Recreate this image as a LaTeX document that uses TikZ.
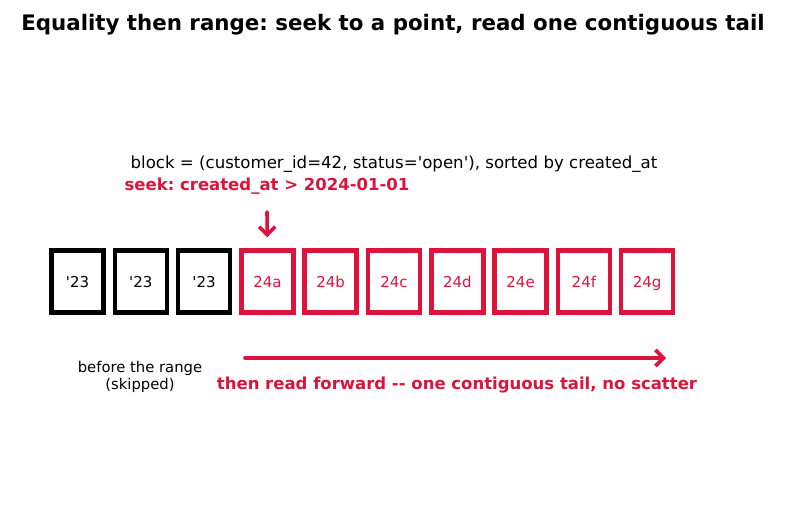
\documentclass[tikz,border=0pt]{standalone}
\usepackage{fontspec}
\newfontfamily\dv{DejaVu Sans}
\usetikzlibrary{arrows.meta}
\definecolor{crim}{HTML}{DC143C}
\tikzset{
  every node/.style={font=\dv},
  blk/.style={draw=black, line width=4.5pt, minimum width=52pt, minimum height=62pt, inner sep=0pt, text height=11pt, text depth=0pt, font=\dv\fontsize{15}{17}\selectfont},
  redblk/.style={blk, draw=crim, text=crim},
  arr/.style={draw=crim, line width=3.6pt, line cap=round, -{Straight Barb[length=8pt,width=16pt,line width=3.6pt]}},
}
\begin{document}
\frenchspacing
\begin{tikzpicture}[x=1pt,y=1pt]
\useasboundingbox (0,0) rectangle (787,-508);
\node[font=\dv\fontsize{21.35}{25}\selectfont\bfseries] (title) at (393,-24.5) {Equality then range: seek to a point, read one contiguous tail};
\node[font=\dv\fontsize{16.6}{19}\selectfont] (blocklbl) at (394,-164) {block = (customer\_id=42, status='open'), sorted by created\_at};
\node[font=\dv\fontsize{16.5}{19}\selectfont\bfseries, text=crim] (seeklbl) at (267,-186) {seek: created\_at > 2024-01-01};
\foreach \i/\t in {0/'23,1/'23,2/'23}{
  \node[blk] (b\i) at ({77.5+63.3*\i},-281.5) {\t};
}
\foreach \i/\t in {3/24a,4/24b,5/24c,6/24d,7/24e,8/24f,9/24g}{
  \node[redblk] (b\i) at ({77.5+63.3*\i},-281.5) {\t};
}
\coordinate (seektop) at (267,-212);
\draw[arr, shorten >=11pt] (seektop) -- (b3.north);
\coordinate (rs) at (245,-358);
\coordinate (re) at (666,-358);
\draw[arr] (rs) -- (re);
\node[font=\dv\fontsize{14.8}{17}\selectfont, align=center] (before) at (140,-377) {before the range\\(skipped)};
\node[font=\dv\fontsize{16.5}{19}\selectfont\bfseries, text=crim] (readlbl) at (457,-385) {then read forward -- one contiguous tail, no scatter};
\end{tikzpicture}
\end{document}
